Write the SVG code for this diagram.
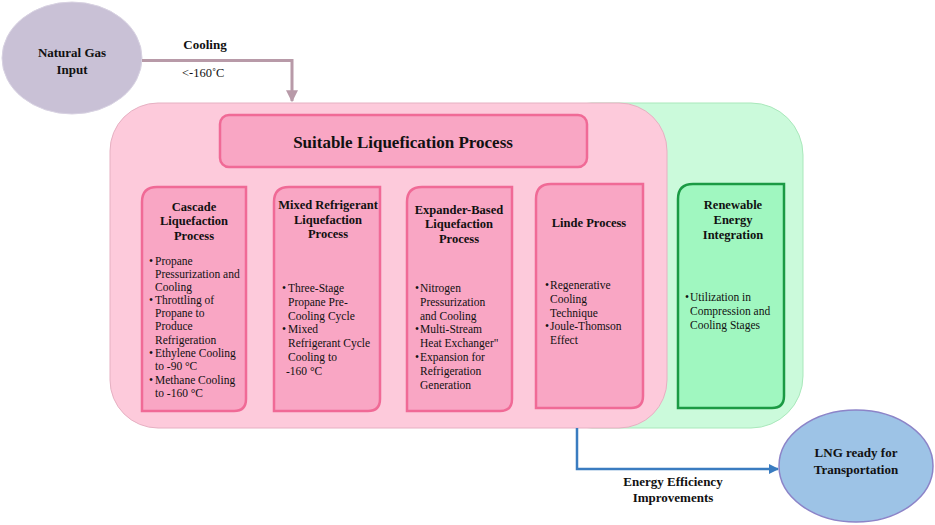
<svg xmlns="http://www.w3.org/2000/svg" width="935" height="525" viewBox="0 0 935 525">
<defs>
<marker id="arrMauve" viewBox="0 0 10 10" refX="9" refY="5" markerWidth="4" markerHeight="4" orient="auto"><path d="M0,0 L10,5 L0,10 z" fill="#b89aa8"/></marker>
<marker id="arrBlue" viewBox="0 0 10 10" refX="9" refY="5" markerWidth="4" markerHeight="4" orient="auto"><path d="M0,0 L10,5 L0,10 z" fill="#3a7cc0"/></marker>
<style>
text{font-family:"Liberation Serif","Times New Roman",serif;fill:#111;}
.b{font-weight:bold;}
.t{font-size:12.5px;font-weight:bold;text-anchor:middle;}
.l{font-size:11.5px;}
.sub{fill:#f9a6c4;stroke:#f06a96;stroke-width:2.5;}
.grn{fill:#a0f7c0;stroke:#1b9a44;stroke-width:2.5;}
</style>
</defs>
<g id="green-container"><rect x="540" y="103" width="263" height="325" rx="52" fill="#cbfadb" stroke="#a9e8bb" stroke-width="1"/></g>
<g id="pink-container"><rect x="110" y="103" width="557" height="325" rx="48" fill="#fdcadb" stroke="#e6b0c2" stroke-width="1"/></g>
<g id="natural-gas"><ellipse cx="72" cy="58" rx="70" ry="56" fill="#c9c1d6" stroke="#d8d2e2" stroke-width="1"/>
<text x="72" y="57" class="b" font-size="13" text-anchor="middle">Natural Gas</text>
<text x="72" y="74" class="b" font-size="13" text-anchor="middle">Input</text></g>
<g id="title"><rect x="220" y="115" width="367" height="52" rx="9" class="sub"/>
<text x="403" y="148" class="b" font-size="17" text-anchor="middle">Suitable Liquefication Process</text></g>
<g id="cascade"><path class="sub" d="M157,187 H246 V399 Q246,411 234,411 H142 V202 Q142,187 157,187 Z"/>
<text class="t"><tspan x="194" y="211">Cascade</tspan><tspan x="194" y="225">Liquefaction</tspan><tspan x="194" y="240">Process</tspan></text>
<text class="l"><tspan x="149" y="265">•</tspan><tspan x="155" y="265">Propane</tspan><tspan x="155" y="278">Pressurization and</tspan><tspan x="155" y="291">Cooling</tspan>
<tspan x="149" y="304">•</tspan><tspan x="155" y="304">Throttling of</tspan><tspan x="155" y="317">Propane to</tspan><tspan x="155" y="330">Produce</tspan><tspan x="155" y="344">Refrigeration</tspan>
<tspan x="149" y="357">•</tspan><tspan x="155" y="357">Ethylene Cooling</tspan><tspan x="155" y="370">to -90 °C</tspan>
<tspan x="149" y="384">•</tspan><tspan x="155" y="384">Methane Cooling</tspan><tspan x="155" y="397">to -160 °C</tspan></text></g>
<g id="mixed"><path class="sub" d="M289,187 H380 V399 Q380,411 368,411 H274 V202 Q274,187 289,187 Z"/>
<text class="t"><tspan x="328" y="209">Mixed Refrigerant</tspan><tspan x="328" y="224">Liquefaction</tspan><tspan x="328" y="238">Process</tspan></text>
<text class="l"><tspan x="282" y="292">•</tspan><tspan x="288" y="292">Three-Stage</tspan><tspan x="288" y="306">Propane Pre-</tspan><tspan x="288" y="320">Cooling Cycle</tspan>
<tspan x="282" y="333">•</tspan><tspan x="288" y="333">Mixed</tspan><tspan x="288" y="347">Refrigerant Cycle</tspan><tspan x="288" y="361">Cooling to</tspan><tspan x="286" y="375">-160 °C</tspan></text></g>
<g id="expander"><path class="sub" d="M422,187 H512 V399 Q512,411 500,411 H407 V202 Q407,187 422,187 Z"/>
<text class="t"><tspan x="459" y="214">Expander-Based</tspan><tspan x="459" y="228">Liquefaction</tspan><tspan x="459" y="243">Process</tspan></text>
<text class="l"><tspan x="415" y="292">•</tspan><tspan x="420" y="292">Nitrogen</tspan><tspan x="420" y="306">Pressurization</tspan><tspan x="420" y="320">and Cooling</tspan>
<tspan x="415" y="333">•</tspan><tspan x="420" y="333">Multi-Stream</tspan><tspan x="420" y="347">Heat Exchanger"</tspan>
<tspan x="415" y="361">•</tspan><tspan x="420" y="361">Expansion for</tspan><tspan x="420" y="375">Refrigeration</tspan><tspan x="420" y="389">Generation</tspan></text></g>
<g id="linde"><path class="sub" d="M551,184 H643 V396 Q643,408 631,408 H536 V199 Q536,184 551,184 Z"/>
<text class="t"><tspan x="589" y="227">Linde Process</tspan></text>
<text class="l"><tspan x="545" y="289">•</tspan><tspan x="550" y="289">Regenerative</tspan><tspan x="550" y="303">Cooling</tspan><tspan x="550" y="317">Technique</tspan>
<tspan x="545" y="330">•</tspan><tspan x="550" y="330">Joule-Thomson</tspan><tspan x="550" y="344">Effect</tspan></text></g>
<g id="renewable"><path class="grn" d="M693,184 H784 V396 Q784,408 772,408 H678 V199 Q678,184 693,184 Z"/>
<text class="t"><tspan x="733" y="209">Renewable</tspan><tspan x="733" y="224">Energy</tspan><tspan x="733" y="239">Integration</tspan></text>
<text class="l"><tspan x="685" y="301">•</tspan><tspan x="690" y="301">Utilization  in</tspan><tspan x="690" y="315">Compression and</tspan><tspan x="690" y="329">Cooling Stages</tspan></text></g>
<g id="lng"><ellipse cx="856" cy="466" rx="77" ry="56" fill="#9dc3e6" stroke="#8c84c8" stroke-width="1.5"/>
<text x="856" y="457" class="b" font-size="13" text-anchor="middle">LNG ready for</text>
<text x="856" y="474" class="b" font-size="13" text-anchor="middle">Transportation</text></g>
<g id="connectors">
<path d="M142,60.5 H292 V101" fill="none" stroke="#b89aa8" stroke-width="3" marker-end="url(#arrMauve)"/>
<path d="M577,428 V469 H778" fill="none" stroke="#3a7cc0" stroke-width="2.5" marker-end="url(#arrBlue)"/>
</g>
<g id="labels">
<text x="205" y="49" class="b" font-size="13" text-anchor="middle">Cooling</text>
<text x="182" y="77" font-size="12.5">&lt;-160˚C</text>
<text x="673" y="486" class="b" font-size="13" text-anchor="middle">Energy Efficiency</text>
<text x="673" y="502" class="b" font-size="13" text-anchor="middle">Improvements</text>
</g>
</svg>
